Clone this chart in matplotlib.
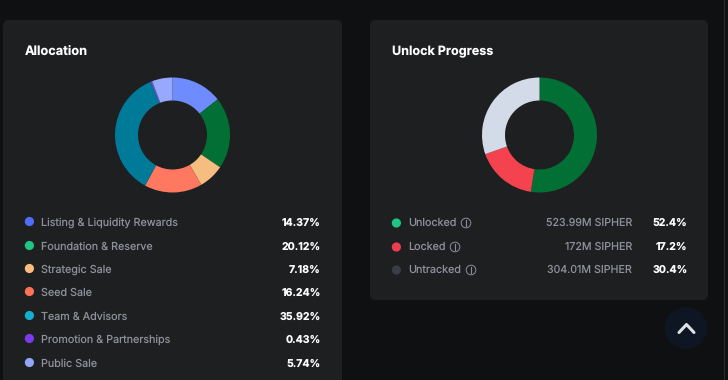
import matplotlib
matplotlib.use("Agg")
import matplotlib.pyplot as plt
from matplotlib.patches import FancyBboxPatch, Circle
from matplotlib.lines import Line2D

plt.rcParams['font.family'] = ['Inter', 'DejaVu Sans']
plt.rcParams['text.hinting'] = 'no_hinting'
plt.rcParams['text.hinting_factor'] = 1

alloc_labels = ["Listing & Liquidity Rewards", "Foundation & Reserve", "Strategic Sale",
                "Seed Sale", "Team & Advisors", "Promotion & Partnerships", "Public Sale"]
alloc_values = [14.37, 20.12, 7.18, 16.24, 35.92, 0.43, 5.74]
alloc_text = ["14.37%", "20.12%", "7.18%", "16.24%", "35.92%", "0.43%", "5.74%"]
alloc_pie_colors = ["#6f8cff", "#027034", "#f5bd80", "#ff785f", "#007a99", "#7d50e0", "#97a9ff"]
alloc_dot_colors = ["#4f6ef7", "#1fc583", "#f9bd7f", "#fb7258", "#14aed0", "#7c3aed", "#93a5f7"]

unlock_labels = ["Unlocked", "Locked", "Untracked"]
unlock_values = [52.4, 17.2, 30.4]
unlock_amounts = ["523.99M SIPHER", "172M SIPHER", "304.01M SIPHER"]
unlock_text = ["52.4%", "17.2%", "30.4%"]
unlock_pie_colors = ["#027034", "#f4434f", "#d3dbe8"]
unlock_dot_colors = ["#1fc583", "#ee3d4f", "#3a3c47"]

W, H = 728, 380
BG, PANEL = "#0f1011", "#1e1f21"
fig = plt.figure(figsize=(W / 100, H / 100), dpi=100, facecolor=BG)
ax = fig.add_axes([0, 0, 1, 1])
ax.set_xlim(0, W)
ax.set_ylim(H, 0)
ax.axis("off")


def panel(x0, y0, x1, y1):
    ax.add_patch(FancyBboxPatch((x0 + 6, y0 + 6), x1 - x0 - 12, y1 - y0 - 12,
                                boxstyle="round,pad=6,rounding_size=6",
                                fc=PANEL, ec="none", zorder=1))


def donut(cx, cy, r, values, colors):
    pa = fig.add_axes([(cx - r) / W, 1 - (cy + r) / H, 2 * r / W, 2 * r / H])
    pa.pie(values, colors=colors, startangle=90, counterclock=False, radius=1,
           wedgeprops=dict(width=0.4, linewidth=0))
    pa.set_xlim(-1, 1)
    pa.set_ylim(-1, 1)
    pa.set_aspect("equal")
    pa.patch.set_alpha(0)


def info(x, y):
    ax.add_patch(Circle((x, y), 4.8, fc="none", ec="#8b8e99", lw=0.7, zorder=3))
    ax.add_line(Line2D([x, x], [y - 0.6, y + 2.6], color="#8b8e99", lw=0.8, zorder=3))
    ax.add_line(Line2D([x, x], [y - 2.8, y - 2.0], color="#8b8e99", lw=0.8, zorder=3))


panel(3, 20, 342, 395)
panel(370, 20, 708, 300)

ax.text(25, 55, "Allocation", color="white", fontsize=9.2, fontweight="bold", va="baseline", zorder=4)
ax.text(392, 55, "Unlock Progress", color="white", fontsize=9.05, fontweight="bold", va="baseline", zorder=4)

donut(172.5, 135, 57.5, alloc_values, alloc_pie_colors)
donut(539.5, 135, 57.5, unlock_values, unlock_pie_colors)

alloc_y = [222, 246, 269, 292, 316, 339, 363]
for y, lab, txt, c in zip(alloc_y, alloc_labels, alloc_text, alloc_dot_colors):
    ax.add_patch(Circle((29.4, y - 0.5), 4.6, fc=c, ec="none", zorder=3))
    ax.text(41, y + 4, lab, color="#8e919c", fontsize=7.75, va="baseline", zorder=4)
    ax.text(320.7, y + 4, txt, color="white", fontsize=7.6, fontweight="bold", va="baseline", ha="right", zorder=4)

unlock_y = [222, 246, 269]
info_x = [466, 455, 471]
for y, lab, amt, txt, c, ix in zip(unlock_y, unlock_labels, unlock_amounts, unlock_text, unlock_dot_colors, info_x):
    ax.add_patch(Circle((396.4, y + 1), 4.6, fc=c, ec="none", zorder=3))
    ax.text(408.3, y + 4, lab, color="#8e919c", fontsize=7.75, va="baseline", zorder=4)
    info(ix, y + 1)
    ax.text(632, y + 4, amt, color="#8e919c", fontsize=7.7, va="baseline", ha="right", zorder=4)
    ax.text(687.7, y + 4, txt, color="white", fontsize=7.6, fontweight="bold", va="baseline", ha="right", zorder=4)

# scroll-to-top button
ax.add_patch(Circle((686, 328), 21, fc="#0e1523", ec="none", zorder=3))
ax.add_line(Line2D([679, 686.5, 694], [332.5, 324.5, 332.5], color="#dfe1e6", lw=2.2,
                   solid_capstyle="round", solid_joinstyle="round", zorder=4))
# page scrollbar edge
ax.add_line(Line2D([723.5, 723.5], [0, 380], color="#2a2b2d", lw=0.8, zorder=2))

fig.savefig("out.png", dpi=100, facecolor=BG)
